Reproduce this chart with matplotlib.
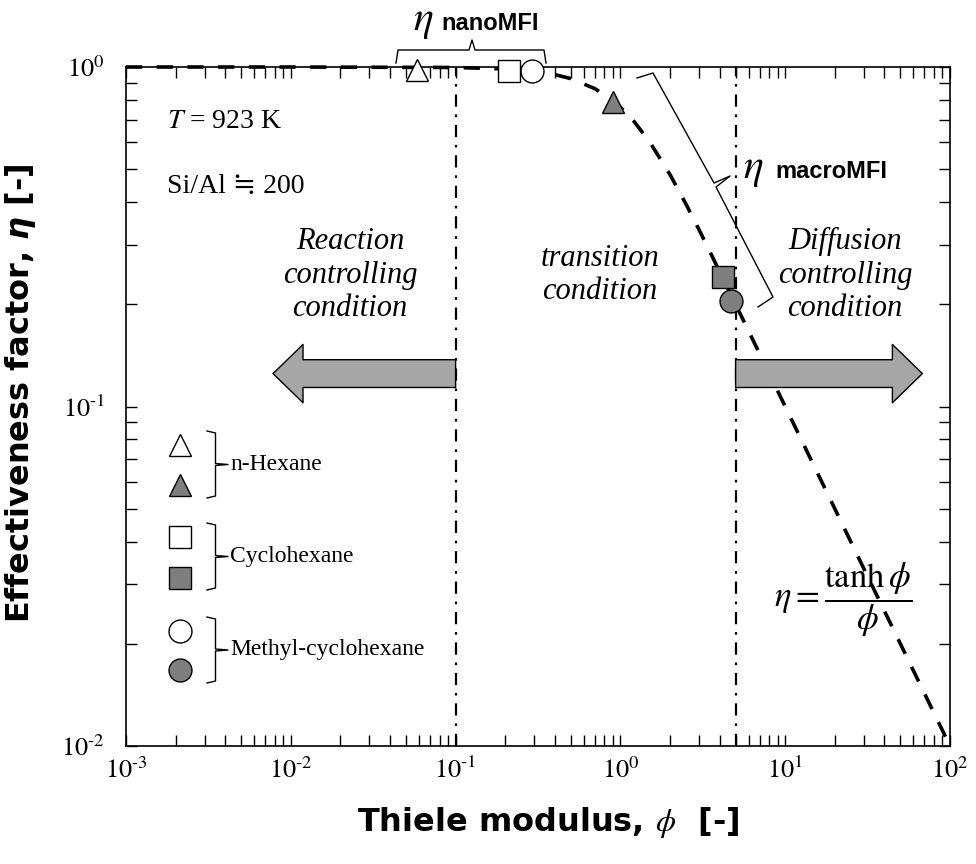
import numpy as np
import matplotlib
matplotlib.use("Agg")
import matplotlib.pyplot as plt
from matplotlib.lines import Line2D

plt.rcParams['font.family'] = ['Liberation Serif', 'DejaVu Serif', 'DejaVu Sans']
plt.rcParams['mathtext.fontset'] = 'stix'
plt.rcParams['mathtext.bf'] = 'DejaVu Sans:bold:italic'

# Datos
phi_curve = [0.001, 0.01, 0.1, 0.2, 0.3, 0.4, 0.5, 0.7, 0.85, 1.0, 1.2, 1.5, 2.0,
             2.5, 3.0, 4.0, 5.0, 7.0, 10.0, 20.0, 30.0, 50.0, 100.0]
eta_curve = [1.0, 1.0, 0.9967, 0.9869, 0.9710, 0.9499, 0.9242, 0.8634, 0.8130, 0.7616,
             0.6947, 0.6034, 0.4820, 0.3946, 0.3317, 0.2498, 0.2000, 0.1429, 0.1000,
             0.0500, 0.0333, 0.0200, 0.0100]

nombres = ['n-Hexane', 'Cyclohexane', 'Methyl-cyclohexane']
marcadores = ['^', 's', 'o']
phi_nano = [0.058, 0.21, 0.29]
eta_nano = [0.98, 0.975, 0.97]
phi_macro = [0.90, 4.2, 4.7]
eta_macro = [0.79, 0.24, 0.205]

limites_regimen = [0.1, 5.0]

x_ticks = [1e-3, 1e-2, 1e-1, 1e0, 1e1, 1e2]
x_labels = [r'$10^{\text{-}3}$', r'$10^{\text{-}2}$', r'$10^{\text{-}1}$', r'$10^{0}$', r'$10^{1}$', r'$10^{2}$']
y_ticks = [1e-2, 1e-1, 1e0]
y_labels = [r'$10^{\text{-}2}$', r'$10^{\text{-}1}$', r'$10^{0}$']

gris = '#7f7f7f'
gris_flecha = '#a6a6a6'

W, H = 976, 864


def fpx(x, y):
    # pixel -> fraccion de figura
    return x / W, 1 - y / H


fig = plt.figure(figsize=(W / 100, H / 100), dpi=100)
ax = fig.add_axes([126 / W, 1 - 746 / H, 824 / W, 679 / H])
ax.set_xscale('log')
ax.set_yscale('log')
ax.set_xlim(1e-3, 1e2)
ax.set_ylim(1e-2, 1e0)

# curva teorica
ax.plot(phi_curve, eta_curve, color='k', lw=2.6, dashes=(4.5, 4), clip_on=False, zorder=3)

# limites de regimen
for xv in limites_regimen:
    ax.axvline(xv, color='k', lw=1.6, dashes=(5.5, 3.5, 1.2, 3.5), zorder=2)

# puntos
for m, x, y in zip(marcadores, phi_nano, eta_nano):
    ax.plot(x, y, marker=m, ms=16.5, mfc='white', mec='k', mew=1, ls='none', clip_on=False, zorder=5)
for m, x, y in zip(marcadores, phi_macro, eta_macro):
    ax.plot(x, y, marker=m, ms=16.5, mfc=gris, mec='k', mew=1, ls='none', clip_on=False, zorder=5)

# flechas
estilo = 'simple,head_length=21.6,head_width=42,tail_width=20'
ax.annotate('', xy=(0.0078, 0.125), xytext=(limites_regimen[0], 0.125),
            arrowprops=dict(arrowstyle=estilo, fc=gris_flecha, ec='k', lw=1,
                            shrinkA=0, shrinkB=0, mutation_scale=1))
ax.annotate('', xy=(68, 0.125), xytext=(limites_regimen[1], 0.125),
            arrowprops=dict(arrowstyle=estilo, fc=gris_flecha, ec='k', lw=1,
                            shrinkA=0, shrinkB=0, mutation_scale=1))

# ejes
ax.set_xticks(x_ticks, x_labels)
ax.set_yticks(y_ticks, y_labels)
ax.tick_params(which='both', direction='in', top=True, right=True, length=8, width=1)
ax.tick_params(axis='x', labelsize=19, pad=8)
ax.tick_params(axis='y', labelsize=19, pad=15)
for s in ax.spines.values():
    s.set_linewidth(1.2)

ax.set_xlabel(r'Thiele modulus, $\phi$  [-]', fontfamily='DejaVu Sans', fontweight='bold', fontsize=23)
ax.xaxis.set_label_coords(0.512, -0.087)
ax.set_ylabel(r'Effectiveness factor, $\mathbf{\eta}$ [-]', fontfamily='DejaVu Sans', fontweight='bold',
              fontsize=23, math_fontfamily='custom')
ax.yaxis.set_label_coords(-0.107, 0.52)

# textos
ax.text(*fpx(167, 122), r'$T$ = 923 K', transform=fig.transFigure, fontsize=20, va='center', ha='left')
ax.text(*fpx(167, 186), 'Si/Al \u2252 200', transform=fig.transFigure, fontsize=20, va='center', ha='left')
ax.text(*fpx(350, 275), 'Reaction\ncontrolling\ncondition', transform=fig.transFigure, fontsize=22,
        style='italic', ha='center', va='center', linespacing=1.2)
ax.text(*fpx(600, 275), 'transition\ncondition', transform=fig.transFigure, fontsize=22,
        style='italic', ha='center', va='center', linespacing=1.2)
ax.text(*fpx(845, 275), 'Diffusion\ncontrolling\ncondition', transform=fig.transFigure, fontsize=22,
        style='italic', ha='center', va='center', linespacing=1.2)
ax.text(*fpx(843, 600), r'$\eta = \dfrac{\tanh\phi}{\phi}$', transform=fig.transFigure, fontsize=25,
        ha='center', va='center')

# leyenda hecha a mano
ley_y = [(445, 485), (537, 578), (631, 670)]
llaves = [(431, 498), (523, 590), (617, 683)]
for i in range(3):
    for j, fc in enumerate(['white', gris]):
        fig.add_artist(Line2D([180 / W], [1 - ley_y[i][j] / H], marker=marcadores[i], ms=16.5,
                              mfc=fc, mec='k', mew=1, ls='none', transform=fig.transFigure))
    y0, y1 = llaves[i]
    ym = (y0 + y1) / 2
    xs = [207, 215.5, 215.5, 228, 215.5, 215.5, 207]
    ys = [y0, y0 + 2, ym - 1, ym, ym + 1, y1 - 2, y1]
    fig.add_artist(Line2D([x / W for x in xs], [1 - y / H for y in ys], color='k', lw=1,
                          transform=fig.transFigure))
    fig.text(*fpx(230, ym), nombres[i], fontsize=17, va='center', ha='left')

# llave eta nano
xs = [396, 398, 469, 472, 475, 544, 546]
ys = [63, 50, 50, 40, 50, 50, 63]
fig.add_artist(Line2D([x / W for x in xs], [1 - y / H for y in ys], color='k', lw=1, transform=fig.transFigure))
fig.text(*fpx(413, 22), r'$\eta$', fontsize=30, va='center', ha='left')
fig.text(*fpx(441, 23), 'nanoMFI', fontsize=17, fontweight='bold', va='center', ha='left',
         family='Liberation Sans')

# llave eta macro
xs = [637, 653, 714, 730, 716, 773, 758]
ys = [78, 73, 183, 176, 187, 297, 307]
fig.add_artist(Line2D([x / W for x in xs], [1 - y / H for y in ys], color='k', lw=1, transform=fig.transFigure))
fig.text(*fpx(743, 170), r'$\eta$', fontsize=30, va='center', ha='left')
fig.text(*fpx(775, 171), 'macroMFI', fontsize=17, fontweight='bold', va='center', ha='left',
         family='Liberation Sans')

fig.savefig('out.png', dpi=100)
